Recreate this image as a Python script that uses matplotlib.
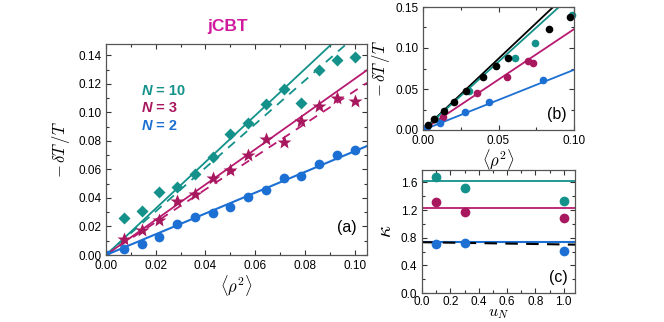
import numpy as np
import matplotlib
matplotlib.use("Agg")
import matplotlib.pyplot as plt
from matplotlib.ticker import MultipleLocator, FormatStrFormatter

plt.rcParams['font.family'] = ['Liberation Sans', 'DejaVu Sans']
plt.rcParams['mathtext.fontset'] = 'cm'

TEAL = "#13918a"
MAG = "#a8185f"
MAGL = "#b81a70"
BLUE = "#1c6fd3"
TITLE = "#d01b9e"

# ---- panel (a) data ----
xa = [0.00714, 0.01429, 0.02143, 0.02857, 0.03571, 0.04286, 0.05, 0.05714,
      0.06429, 0.07143, 0.07857, 0.08571, 0.09286, 0.1]
ya_n10 = [0.026, 0.031, 0.044, 0.0476, 0.057, 0.069, 0.085, 0.0924, 0.106,
          0.1167, 0.1068, 0.1296, 0.137, 0.139]
ya_n3 = [0.0113, 0.0177, 0.0248, 0.0377, 0.0431, 0.0537, 0.0594, 0.0702,
         0.0813, 0.0794, 0.0943, 0.1044, 0.110, 0.108]
ya_n2 = [0.0045, 0.008, 0.0123, 0.0215, 0.0269, 0.0292, 0.034, 0.0408,
         0.0457, 0.0540, 0.0552, 0.0641, 0.070, 0.074]
slope_a_solid = {"N10": 1.63, "N3": 1.235, "N2": 0.728}
slope_a_dashed = {"N10": 1.53, "N3": 1.15}
legend_labels = ["10", "3", "2"]

# ---- panel (b) data ----
xb_black = [0.003, 0.007, 0.0136, 0.0206, 0.0286, 0.0396, 0.0486, 0.0564, 0.0835, 0.0972]
yb_black = [0.006, 0.013, 0.0233, 0.0345, 0.047, 0.0642, 0.0784, 0.0872, 0.1237, 0.1378]
xb_teal = [0.008, 0.0307, 0.0609, 0.0745, 0.099]
yb_teal = [0.014, 0.0476, 0.0876, 0.1067, 0.1406]
xb_mag = [0.0132, 0.036, 0.0558, 0.0697, 0.073]
yb_mag = [0.0158, 0.0449, 0.0652, 0.0844, 0.0823]
xb_blue = [0.0026, 0.011, 0.0279, 0.0437, 0.0796]
yb_blue = [0.004, 0.0082, 0.0216, 0.0336, 0.0611]
slope_b = {"black": 1.74, "teal": 1.665, "mag": 1.23, "blue": 0.734}

# ---- panel (c) data ----
uN = [0.1, 0.3, 1.0]
kap_teal = [1.673, 1.518, 1.334]
kap_mag = [1.31, 1.17, 1.082]
kap_blue = [0.704, 0.718, 0.607]
kap_line = {"teal": 1.625, "mag": 1.237, "blue": 0.733}
kap_black_dash = [0.735, 0.70]

fig = plt.figure(figsize=(6.64, 3.22), dpi=100)

def style(ax):
    ax.tick_params(which='both', direction='in', top=True, right=True,
                   labelsize=8.5, colors='#333333', labelcolor='black', width=0.8)
    ax.tick_params(which='major', length=3.5)
    ax.tick_params(which='minor', length=2)
    for s in ax.spines.values():
        s.set_color('#555555')
        s.set_linewidth(0.9)

# ---- (a) ----
axa = fig.add_axes([106/664, 1-255/322, 261/664, 211/322])
style(axa)
xx = np.linspace(0, 0.105, 50)
axa.plot(xx, slope_a_solid["N10"]*xx, color=TEAL, lw=1.3)
axa.plot(xx, slope_a_dashed["N10"]*xx, color=TEAL, lw=1.3, ls=(0, (5, 4)))
axa.plot(xx, slope_a_solid["N3"]*xx, color=MAGL, lw=1.3)
axa.plot(xx, slope_a_dashed["N3"]*xx, color=MAGL, lw=1.3, ls=(0, (5, 4)))
axa.plot(xx, slope_a_solid["N2"]*xx, color=BLUE, lw=1.5)
axa.plot(xa, ya_n10, 'D', color=TEAL, ms=6.3, mec='none', clip_on=False)
axa.plot(xa, ya_n3, '*', color=MAG, ms=10.5, mec='none', clip_on=False)
axa.plot(xa, ya_n2, 'o', color=BLUE, ms=7, mec='none', clip_on=False)
axa.plot([0], [0.001], 's', color=BLUE, ms=4)
axa.set_xlim(0, 0.105)
axa.set_ylim(0, 0.148)
axa.xaxis.set_major_locator(MultipleLocator(0.02))
axa.xaxis.set_minor_locator(MultipleLocator(0.01))
axa.yaxis.set_major_locator(MultipleLocator(0.02))
axa.yaxis.set_minor_locator(MultipleLocator(0.01))
axa.xaxis.set_major_formatter(FormatStrFormatter('%.2f'))
axa.yaxis.set_major_formatter(FormatStrFormatter('%.2f'))
axa.set_xlabel(r'$\langle\rho^2\rangle$', fontsize=12, labelpad=1)
axa.set_ylabel(r'$-\,\delta T\,/T$', fontsize=12, labelpad=4)
for lab, col, yy in zip(legend_labels, [TEAL, MAG, BLUE], [0.1149, 0.1032, 0.0903]):
    t = axa.text(0.0143, yy, 'N', color=col, fontsize=10.5, fontweight='bold',
                 fontstyle='italic', ha='left', va='center')
    axa.annotate(' = ' + lab, xy=(1, 0.5), xycoords=t, color=col, fontsize=10.5,
                 fontweight='bold', ha='left', va='center')
axa.text(0.097, 0.0195, '(a)', fontsize=11.5, ha='center', va='center')
fig.text(228/664, 1-27/322, 'jCBT', color=TITLE, fontsize=12.5, fontweight='bold', ha='center', va='center')

# ---- (b) ----
axb = fig.add_axes([423/664, 1-130/322, 151/664, 123/322])
style(axb)
xx = np.linspace(0, 0.1, 50)
axb.plot(xx, slope_b["black"]*xx, color='black', lw=1.3)
axb.plot(xx, slope_b["teal"]*xx, color=TEAL, lw=1.3)
axb.plot(xx, slope_b["mag"]*xx, color=MAGL, lw=1.3)
axb.plot(xx, slope_b["blue"]*xx, color=BLUE, lw=1.3)
axb.plot(xb_teal, yb_teal, 'o', color=TEAL, ms=5.5, mec='none', clip_on=False)
axb.plot(xb_mag, yb_mag, 'o', color=MAG, ms=5.5, mec='none')
axb.plot(xb_blue, yb_blue, 'o', color=BLUE, ms=5.5, mec='none')
axb.plot(xb_black, yb_black, 'o', color='black', ms=5.5, mec='none')
axb.set_xlim(0, 0.1)
axb.set_ylim(0, 0.15)
axb.xaxis.set_major_locator(MultipleLocator(0.05))
axb.xaxis.set_minor_locator(MultipleLocator(0.025))
axb.yaxis.set_major_locator(MultipleLocator(0.05))
axb.yaxis.set_minor_locator(MultipleLocator(0.025))
axb.xaxis.set_major_formatter(FormatStrFormatter('%.2f'))
axb.yaxis.set_major_formatter(FormatStrFormatter('%.2f'))
axb.set_xlabel(r'$\langle\rho^2\rangle$', fontsize=12, labelpad=0)
axb.set_ylabel(r'$-\,\delta T\,/T$', fontsize=12, labelpad=2)
axb.text(0.0885, 0.0195, '(b)', fontsize=11.5, ha='center', va='center')

# ---- (c) ----
axc = fig.add_axes([422/664, 1-293/322, 153/664, 123/322])
style(axc)
axc.tick_params(axis='x', pad=2)
uu = [0, 1.08]
axc.plot(uu, [kap_line["teal"]]*2, color=TEAL, lw=1.3)
axc.plot(uu, [kap_line["mag"]]*2, color=MAGL, lw=1.3)
axc.plot(uu, [kap_line["blue"]]*2, color=BLUE, lw=1.5)
axc.plot(uu, kap_black_dash, color='black', lw=1.5, ls=(0, (6, 4)))
axc.plot(uN, kap_teal, 'o', color=TEAL, ms=7, mec='none')
axc.plot(uN, kap_mag, 'o', color=MAG, ms=7, mec='none')
axc.plot(uN, kap_blue, 'o', color=BLUE, ms=7, mec='none')
axc.set_xlim(0, 1.08)
axc.set_ylim(0, 1.78)
axc.xaxis.set_major_locator(MultipleLocator(0.2))
axc.xaxis.set_minor_locator(MultipleLocator(0.1))
axc.yaxis.set_major_locator(MultipleLocator(0.4))
axc.yaxis.set_minor_locator(MultipleLocator(0.2))
axc.xaxis.set_major_formatter(FormatStrFormatter('%.1f'))
axc.yaxis.set_major_formatter(FormatStrFormatter('%.1f'))
axc.set_xlabel(r'$u_N$', fontsize=11.5, labelpad=-1)
axc.set_ylabel(r'$\kappa$', fontsize=15, labelpad=4)
axc.text(0.96, 0.23, '(c)', fontsize=11.5, ha='center', va='center')

fig.savefig('out.png', dpi=100)
